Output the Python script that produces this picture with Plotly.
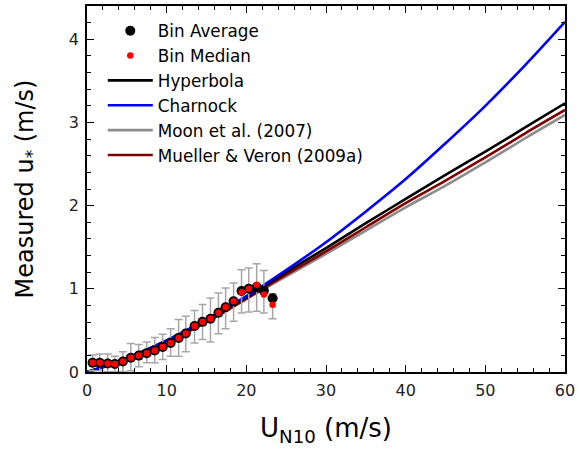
import plotly.graph_objects as go

# ---- Data ----
u_bins = [0.7, 1.6, 2.6, 3.5, 4.5, 5.5, 6.5, 7.5, 8.5, 9.5, 10.5, 11.5,
          12.4, 13.5, 14.5, 15.5, 16.5, 17.4, 18.4, 19.4, 20.3, 21.3, 22.2, 23.3]
bin_avg = [0.111, 0.111, 0.103, 0.097, 0.127, 0.172, 0.197, 0.226, 0.259, 0.302, 0.348, 0.410,
           0.462, 0.553, 0.603, 0.641, 0.713, 0.778, 0.851, 0.973, 1.000, 1.020, 0.978, 0.887]
bin_med = [0.111, 0.111, 0.103, 0.097, 0.127, 0.172, 0.197, 0.226, 0.259, 0.302, 0.348, 0.410,
           0.462, 0.553, 0.603, 0.641, 0.713, 0.778, 0.851, 0.960, 1.000, 1.050, 0.931, 0.808]
err_top = [0.203, 0.215, 0.215, 0.190, 0.243, 0.342, 0.330, 0.362, 0.414, 0.454, 0.520, 0.630,
           0.670, 0.740, 0.810, 0.890, 0.950, 1.010, 1.070, 1.230, 1.250, 1.300, 1.220, 0.940]
err_bot = [0.016, 0.016, 0.004, 0.004, 0.004, 0.016, 0.064, 0.111, 0.111, 0.151, 0.190, 0.190,
           0.243, 0.350, 0.390, 0.360, 0.460, 0.520, 0.610, 0.710, 0.720, 0.730, 0.710, 0.640]

u_curve = [0, 5, 10, 15, 20, 25, 30, 35, 40, 45, 50, 55, 60]
hyperbola = [0.0, 0.17, 0.38, 0.62, 0.90, 1.20, 1.49, 1.79, 2.08, 2.37, 2.65, 2.94, 3.23]
charnock = [0.0, 0.164, 0.381, 0.632, 0.912, 1.226, 1.56, 1.93, 2.32, 2.75, 3.20, 3.69, 4.21]
moon = [0.0, 0.16, 0.37, 0.61, 0.88, 1.15, 1.42, 1.70, 1.98, 2.24, 2.52, 2.81, 3.09]
mueller = [0.0, 0.15, 0.36, 0.60, 0.88, 1.17, 1.45, 1.74, 2.03, 2.30, 2.58, 2.87, 3.15]

FONT = "DejaVu Sans, Liberation Sans, Arial, sans-serif"

fig = go.Figure()

line_specs = [
    ("Moon et al. (2007)", moon, "#8c8c8c", 5),
    ("Mueller & Veron (2009a)", mueller, "#800000", 6),
    ("Hyperbola", hyperbola, "#000000", 3),
    ("Charnock", charnock, "#0000ff", 4),
]
for name, vals, col, rank in line_specs:
    fig.add_trace(go.Scatter(x=u_curve, y=vals, mode="lines", name=name,
                             line=dict(color=col, width=2.6, shape="spline"),
                             legendrank=rank))

fig.add_trace(go.Scatter(
    x=u_bins, y=bin_avg, mode="markers", name="Bin Average",
    marker=dict(color="black", size=10),
    error_y=dict(type="data", symmetric=False,
                 array=[t - a for t, a in zip(err_top, bin_avg)],
                 arrayminus=[a - b for a, b in zip(bin_avg, err_bot)],
                 color="#a6a6a6", thickness=1.5, width=4),
    legendrank=1))
fig.add_trace(go.Scatter(
    x=u_bins, y=bin_med, mode="markers", name="Bin Median",
    marker=dict(color="#ff0000", size=6.5),
    legendrank=2))

fig.update_layout(
    width=579, height=450,
    margin=dict(l=87, r=8, t=4, b=78),
    paper_bgcolor="white", plot_bgcolor="white",
    font=dict(family=FONT, color="black"),
    showlegend=True,
    legend=dict(x=0.033, y=0.98, xanchor="left", yanchor="top",
                bgcolor="rgba(0,0,0,0)", font=dict(size=16.8, family=FONT),
                tracegroupgap=0, itemwidth=45),
)
fig.update_xaxes(
    range=[0, 60], dtick=10, showgrid=False, zeroline=False,
    showline=True, linecolor="black", linewidth=1.5, mirror="ticks",
    ticks="inside", ticklen=7, tickwidth=1.2, tickcolor="black",
    minor=dict(ticks="inside", dtick=2, ticklen=4, tickcolor="black", tickwidth=1),
    tickfont=dict(size=16, family=FONT, color="#222"),
    ticklabeloverflow="allow", ticklabelstandoff=3,
    title=dict(text="U<sub>N10</sub> (m/s)", font=dict(size=26, family=FONT), standoff=20),
)
fig.update_yaxes(
    range=[0, 4.4], dtick=1, showgrid=False, zeroline=False,
    showline=True, linecolor="black", linewidth=1.5, mirror="ticks",
    ticks="inside", ticklen=7, tickwidth=1.2, tickcolor="black",
    minor=dict(ticks="inside", dtick=0.2, ticklen=4, tickcolor="black", tickwidth=1),
    tickfont=dict(size=16, family=FONT, color="#222"),
    ticklabeloverflow="allow", ticklabelstandoff=3,
    title=dict(text="Measured u<sub>*</sub> (m/s)", font=dict(size=24, family=FONT), standoff=28),
)

fig.write_html("out.html")
